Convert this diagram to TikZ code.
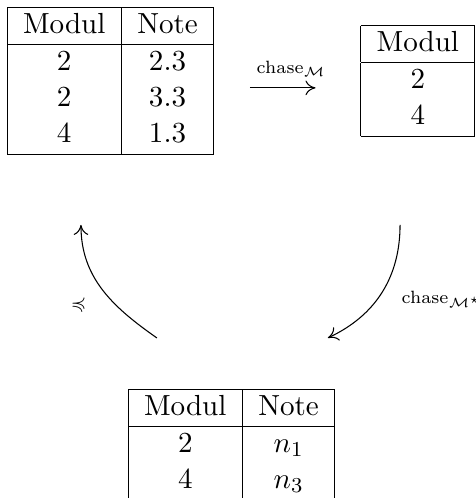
\documentclass[tikz,border=0pt]{standalone}
\usepackage{amssymb}
\usetikzlibrary{arrows.meta}

\begin{document}
\begin{tikzpicture}[->,>={Computer Modern Rightarrow[length=3.8pt, width=5.5pt]},thin,font=\fontsize{10.95}{13.6}\selectfont,tab/.style={inner sep=0pt, outer sep=0pt},lbl/.style={font=\fontsize{6.7}{8}\selectfont, inner sep=1.5pt}]
\useasboundingbox (0,0) rectangle (179.3pt,-187.6pt);
\node[tab] (noten) at (41.6pt,-30.5pt) {\begin{tabular}{|c|c|}\hline Modul & Note\\\hline 2 & 2.3\\ 2 & 3.3\\ 4 & 1.3\\\hline\end{tabular}};
\node[tab] (module) at (157.4pt,-30.5pt) {\begin{tabular}{|c|}\hline Modul\\\hline 2\\ 4\\\hline\end{tabular}};
\node[tab] (ergebnis) at (87.2pt,-167.5pt) {\begin{tabular}{|c|c|}\hline Modul & Note\\\hline 2 & $n_1$\\ 4 & $n_3$\\\hline\end{tabular}};
\path ([yshift=-2.6pt]noten.east) edge[shorten <=13.6pt, shorten >=17pt] node[lbl, anchor=base, yshift=5.3pt, xshift=1.5pt] {chase$_{\mathcal{M}}$} ([yshift=-2.6pt]module.west);
\path ([xshift=-6.7pt,yshift=-33.2pt]module.south) edge[out=-90, in=25] node[lbl, pos=.56, right=7.5pt] {chase$_{\mathcal{M}^\star}$} ([xshift=36.3pt,yshift=19.2pt]ergebnis.north);
\path ([xshift=-28.1pt,yshift=19.2pt]ergebnis.north) edge[out=145, in=-90] node[lbl, pos=.35, left=9.5pt] {$\preccurlyeq$} ([xshift=-11.1pt,yshift=-26.4pt]noten.south);
\end{tikzpicture}
\end{document}
